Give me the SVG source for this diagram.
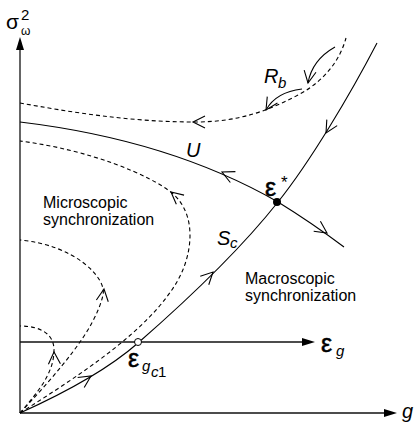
<svg xmlns="http://www.w3.org/2000/svg" xmlns:xlink="http://www.w3.org/1999/xlink" width="416" height="424" viewBox="0 0 416 424">
<style>
text{font-family:"Liberation Sans",Arial,sans-serif;fill:#000}
.it{font-style:italic}
.eps{stroke:#000;stroke-width:0.5}
.sol{fill:none;stroke:#000;stroke-width:1.1}
.dash{fill:none;stroke:#000;stroke-width:1.1;stroke-dasharray:4 3}
.axis{fill:none;stroke:#111;stroke-width:1.3}
.chev{fill:none;stroke:#000;stroke-width:1.1}
</style>
<defs>
<path id="chev" class="chev" d="M-12,-6 L0,0 L-12,6"/>
</defs>
<rect width="416" height="424" fill="#fff"/>
<g id="axes">
<line class="axis" x1="20" y1="413" x2="20" y2="48"/>
<path d="M20,37 L16,50 L24,50 Z" fill="#000"/>
<line class="axis" x1="20" y1="413" x2="386" y2="413"/>
<path d="M397,413 L384,409 L384,417 Z" fill="#000"/>
<line class="axis" x1="20" y1="342" x2="304" y2="342"/>
<path d="M315,342 L302,338 L302,346 Z" fill="#000"/>
</g>
<g id="connectors">
<path id="Sc" class="sol" d="M20,413 C60,395 105,372 138,343 C185,302 240,250 278,202 C310,162 350,95 377,43"/>
<path id="Ucurve" class="sol" d="M20,122 Q170,140 278,202 Q312,223 344,247"/>
<path id="top" class="dash" d="M20,103 C70,112 130,122 195,122 C240,122 270,110 300,94 C325,80 340,60 346,38"/>
<path id="d1" class="dash" d="M20,413 C80,375 150,330 178,280 C192,255 198,215 172,193 C150,175 90,150 20,141"/>
<path id="d2" class="dash" d="M20,413 C60,370 95,330 103,295 C107,278 75,245 20,240"/>
<path id="d3" class="dash" d="M20,413 C35,395 54,375 54,350 C54,335 42,326 20,326"/>
<path id="rb1" class="sol" d="M335,47 Q312,60 308,83"/>
<path id="rb2" class="sol" d="M302,89 Q276,92 266,110"/>
<use xlink:href="#chev" transform="translate(91,376) rotate(-33)"/>
<use xlink:href="#chev" transform="translate(213,272) rotate(-45)"/>
<use xlink:href="#chev" transform="translate(326,133) rotate(120)"/>
<use xlink:href="#chev" transform="translate(222,172) rotate(-155)"/>
<use xlink:href="#chev" transform="translate(327,233) rotate(34)"/>
<use xlink:href="#chev" transform="translate(193,122) rotate(180)"/>
<use xlink:href="#chev" transform="translate(171,192) rotate(-140)"/>
<use xlink:href="#chev" transform="translate(104,289) rotate(-82)"/>
<use xlink:href="#chev" transform="translate(54,352) rotate(-92)"/>
<use xlink:href="#chev" transform="translate(308,83) rotate(100)"/>
<use xlink:href="#chev" transform="translate(266,110) rotate(122)"/>
</g>
<g id="points">
<circle cx="277" cy="202" r="4" fill="#000"/>
<circle cx="138" cy="342" r="3.5" fill="#fff" stroke="#000" stroke-width="1"/>
</g>
<g id="labels">
<text x="6" y="29" font-size="21">σ</text>
<text x="21" y="20" font-size="15">2</text>
<text x="21" y="35" font-size="12">ω</text>
<text class="it" x="402" y="418" font-size="20">g</text>
<text class="eps" x="321" y="352" font-size="25">ε</text>
<text class="it" x="336" y="356" font-size="15">g</text>
<text class="eps" x="128" y="367" font-size="25">ε</text>
<text class="it" x="142" y="371" font-size="15">g</text>
<text class="it" x="151" y="377" font-size="15">c</text>
<text x="158" y="377" font-size="15">1</text>
<text class="eps" x="265" y="196" font-size="25">ε</text>
<text x="281" y="188" font-size="17">*</text>
<text class="it" x="186" y="157" font-size="20">U</text>
<text class="it" x="217" y="245" font-size="20">S</text>
<text class="it" x="230" y="248" font-size="15">c</text>
<text class="it" x="264" y="83" font-size="20">R</text>
<text class="it" x="278" y="88" font-size="15">b</text>
<text x="43" y="208" font-size="16">Microscopic</text>
<text x="43" y="225" font-size="16">synchronization</text>
<text x="245" y="284" font-size="16">Macroscopic</text>
<text x="245" y="301" font-size="16">synchronization</text>
</g>
</svg>
